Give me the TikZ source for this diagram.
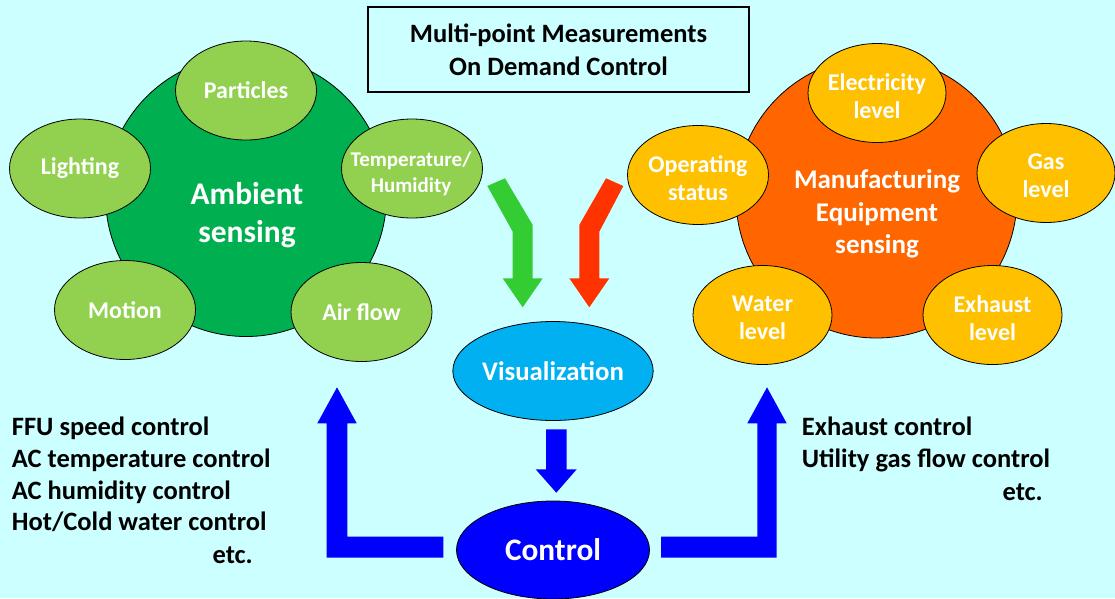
\documentclass[tikz,border=0pt]{standalone}
\usepackage{fontspec}
\setmainfont{Carlito}
\usetikzlibrary{shapes.geometric}
\definecolor{bg}{HTML}{CCFFFF}
\definecolor{ambgreen}{HTML}{00B050}
\definecolor{satgreen}{HTML}{92D050}
\definecolor{mfgorange}{HTML}{FF6600}
\definecolor{satorange}{HTML}{FFC000}
\definecolor{visblue}{HTML}{00B0F0}
\definecolor{ctlblue}{HTML}{0000FF}
\definecolor{arrgreen}{HTML}{33CC33}
\definecolor{arrred}{HTML}{FF3300}
\tikzset{
  bigcircle/.style={circle, draw=black, line width=0.8pt, minimum size=281pt, inner sep=0pt},
  sat/.style={ellipse, draw=black, line width=0.8pt, inner sep=0pt, minimum width=141pt, minimum height=99pt,
    text=white, align=center, font=\bfseries\fontsize{24}{28}\selectfont},
  gsat/.style={sat, fill=satgreen},
  osat/.style={sat, fill=satorange},
  sattext/.style={label={[text=white, align=center, inner sep=0pt, yshift=-3pt,
    font=\bfseries\fontsize{24}{28}\selectfont]center:#1}},
  hubtext/.style={text=white, align=center, inner sep=0pt},
  listtext/.style={anchor=base west, inner sep=0pt, font=\bfseries\fontsize{26.5}{32}\selectfont},
  etctext/.style={anchor=base east, inner sep=0pt, font=\bfseries\fontsize{26.5}{32}\selectfont}
}
\begin{document}
\begin{tikzpicture}[x=1pt,y=-1pt]
\fill[bg] (0,0) rectangle (1115,598);
\useasboundingbox (0,0) rectangle (1115,598);

% title
\node[draw=black, line width=1.5pt, minimum width=381pt, minimum height=85pt, align=center,
  font=\bfseries\fontsize{26.5}{33}\selectfont] (title) at (558.5,49.5)
  {Multi-point Measurements\\On Demand Control};

% ambient sensing
\node[bigcircle, fill=ambgreen] (amb) at (246,196) {};
\node[hubtext, font=\bfseries\fontsize{31.5}{38}\selectfont] (ambt) at (247,215) {Ambient\\sensing};
\node[gsat] (particles) at (246,90.5) {Particles};
\node[gsat] (lighting) at (80,168.5) {Lighting};
\node[gsat] (temp) at (412,168.5) {};
\node[hubtext, font=\bfseries\fontsize{21}{26.5}\selectfont] (tempt) at (411,174) {Temperature/\\Humidity};
\node[gsat] (motion) at (125,310) {Motion};
\node[gsat] (airflow) at (361.5,312) {Air flow};

% manufacturing equipment sensing
\node[bigcircle, fill=mfgorange] (mfg) at (876.5,197.5) {};
\node[hubtext, font=\bfseries\fontsize{27}{32.5}\selectfont] (mfgt) at (877,214) {Manufacturing\\Equipment\\sensing};
\node[osat, minimum width=138pt, sattext={Electricity\\level}] (elec) at (877,93) {};
\node[osat, sattext={Operating\\status}] (oper) at (698,175) {};
\node[osat, minimum width=138pt, sattext={Gas\\level}] (gas) at (1046,173) {};
\node[osat, minimum width=139pt, sattext={Water\\level}] (water) at (762.5,315) {};
\node[osat, minimum width=139pt, sattext={Exhaust\\level}] (exhaust) at (992.5,315) {};

% visualization & control
\node[ellipse, draw=black, line width=0.8pt, fill=visblue, minimum width=194pt, minimum height=99pt, inner sep=0pt,
  text=white, font=\bfseries\fontsize{26.8}{30}\selectfont] (vis) at (553,371) {Visualization};
\node[ellipse, draw=black, line width=0.8pt, fill=ctlblue, minimum width=193pt, minimum height=98pt, inner sep=0pt,
  text=white, font=\bfseries\fontsize{31.3}{36}\selectfont] (ctl) at (553,550) {Control};

% block arrows
\fill[arrgreen] (487.3,186) -- (505,178.3) -- (532.7,225) -- (532.7,278.3) -- (542.7,278.3)
  -- (522.7,307.3) -- (502.7,278.3) -- (512.7,278.3) -- (512.7,231.7) -- cycle;
\fill[arrred] (623.3,186) -- (606,178.3) -- (579.3,225) -- (579.3,278.3) -- (569.3,278.3)
  -- (589.3,307.3) -- (609.3,278.3) -- (599.3,278.3) -- (599.3,231.7) -- cycle;
\fill[ctlblue] (546,429.3) -- (566.7,429.3) -- (566.7,469.3) -- (576.7,469.3) -- (556.3,492.7)
  -- (535.7,469.3) -- (546,469.3) -- cycle;
\fill[ctlblue] (443.3,536.7) -- (347.3,536.7) -- (347.3,423.3) -- (356.7,423.3) -- (337,387.3)
  -- (317.3,423.3) -- (326.7,423.3) -- (326.7,557.7) -- (443.3,557.7) -- cycle;
\fill[ctlblue] (661,536.7) -- (757.3,536.7) -- (757.3,423.3) -- (747.3,423.3) -- (767,387.3)
  -- (786.7,423.3) -- (776.7,423.3) -- (776.7,557.7) -- (661,557.7) -- cycle;

% control lists
\node[listtext] (l1) at (11.7,435.7) {FFU speed control};
\node[listtext] (l2) at (11.7,467) {AC temperature control};
\node[listtext] (l3) at (11.7,499) {AC humidity control};
\node[listtext] (l4) at (11.7,530.7) {Hot/Cold water control};
\node[etctext] (l5) at (253,563.3) {etc.};
\node[listtext] (r1) at (801.7,435.7) {Exhaust control};
\node[listtext] (r2) at (801.7,467) {Utility gas flow control};
\node[etctext] (r3) at (1043,500) {etc.};
\end{tikzpicture}
\end{document}
